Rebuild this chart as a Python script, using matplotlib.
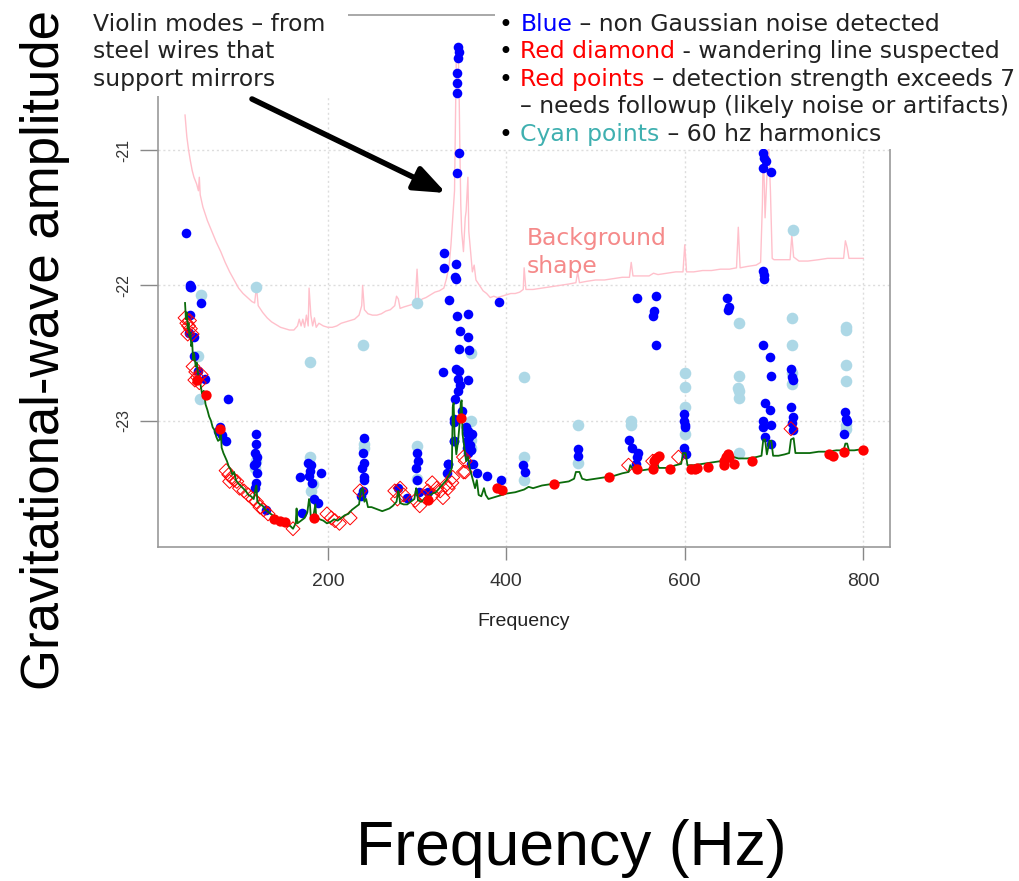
import matplotlib
matplotlib.use("Agg")
import matplotlib.pyplot as plt
from matplotlib.patches import Rectangle

# ---- data ----
# noise floor (green)
green_f = [40, 41, 42, 43, 44, 45, 46, 47, 48, 49, 50, 52, 53, 55, 57, 59, 61, 63, 65, 67, 69, 71, 73, 75,
           77, 79, 80, 81, 83, 85, 87, 89, 91, 93, 95, 97, 99, 102, 105, 108, 111, 114, 117, 119, 120, 121,
           124, 127, 130, 134, 138, 142, 146, 150, 154, 158, 161, 164, 165, 166, 170, 174, 177, 179, 180,
           181, 184, 186, 187, 191, 195, 199, 203, 207, 211, 215, 219, 223, 227, 231, 235, 237, 239, 241,
           243, 245, 249, 253, 257, 261, 265, 269, 273, 277, 279, 280, 281, 285, 289, 293, 297, 299, 300,
           301, 305, 309, 313, 317, 321, 325, 329, 333, 336, 339, 340, 341, 342, 344, 346, 348, 349, 350,
           351, 353, 355, 357, 359, 361, 363, 365, 367, 369, 372, 375, 377, 380, 385, 390, 395, 400, 410,
           420, 425, 430, 440, 450, 460, 470, 476, 478, 482, 485, 490, 500, 510, 520, 530, 537, 539, 542,
           550, 560, 566, 568, 571, 580, 590, 596, 598, 601, 603, 610, 620, 630, 640, 650, 655, 660, 670,
           680, 686, 688, 690, 692, 695, 697, 699, 705, 712, 717, 719, 722, 724, 730, 740, 750, 760, 770,
           778, 780, 782, 784, 790, 800]
green_a = [-22.13, -22.25, -22.2, -22.32, -22.28, -22.38, -22.35, -22.45, -22.42, -22.55, -22.5, -22.6,
           -22.57, -22.68, -22.72, -22.8, -22.78, -22.88, -22.92, -22.97, -23.0, -23.05, -23.07, -23.12,
           -23.15, -23.14, -23.06, -23.2, -23.24, -23.27, -23.3, -23.34, -23.36, -23.4, -23.38, -23.44,
           -23.46, -23.48, -23.5, -23.52, -23.55, -23.56, -23.58, -23.5, -23.48, -23.6, -23.62, -23.63,
           -23.66, -23.68, -23.7, -23.72, -23.74, -23.75, -23.77, -23.78, -23.8, -23.76, -23.65, -23.76,
           -23.74, -23.72, -23.68, -23.58, -23.62, -23.72, -23.7, -23.62, -23.71, -23.73, -23.74, -23.76,
           -23.75, -23.73, -23.74, -23.72, -23.7, -23.69, -23.66, -23.64, -23.62, -23.52, -23.5, -23.6,
           -23.58, -23.64, -23.64, -23.65, -23.66, -23.67, -23.66, -23.65, -23.63, -23.6, -23.52, -23.55,
           -23.61, -23.62, -23.62, -23.6, -23.58, -23.5, -23.52, -23.59, -23.6, -23.57, -23.56, -23.54,
           -23.53, -23.5, -23.47, -23.44, -23.4, -23.35, -22.9, -22.87, -23.1, -23.25, -23.15, -23.0,
           -22.87, -22.85, -23.1, -23.2, -23.3, -23.27, -23.35, -23.4, -23.45, -23.5, -23.44, -23.55,
           -23.56, -23.5, -23.55, -23.58, -23.57, -23.56, -23.55, -23.54, -23.53, -23.51, -23.49, -23.5,
           -23.48, -23.47, -23.46, -23.45, -23.43, -23.38, -23.38, -23.43, -23.44, -23.43, -23.42, -23.41,
           -23.39, -23.38, -23.33, -23.36, -23.37, -23.36, -23.35, -23.3, -23.35, -23.35, -23.33, -23.32,
           -23.24, -23.24, -23.33, -23.33, -23.32, -23.31, -23.3, -23.29, -23.27, -23.28, -23.28, -23.27,
           -23.26, -23.14, -23.14, -23.25, -23.15, -23.15, -23.26, -23.26, -23.25, -23.24, -23.14, -23.13,
           -23.24, -23.24, -23.24, -23.23, -23.23, -23.22, -23.22, -23.17, -23.17, -23.22, -23.22, -23.21]

# background shape (pink)
pink_f = [40, 42, 44, 46, 48, 50, 53, 55, 56, 57, 60, 65, 70, 75, 80, 85, 90, 95, 100, 105, 110, 115, 118,
          120, 122, 127, 132, 137, 142, 147, 152, 157, 162, 166, 168, 170, 172, 174, 176, 178, 179, 181,
          183, 185, 187, 190, 195, 200, 205, 210, 215, 220, 225, 230, 235, 238, 239, 241, 245, 250, 255,
          260, 265, 270, 275, 277, 279, 281, 285, 290, 295, 298, 300, 302, 306, 310, 315, 320, 325, 330,
          333, 336, 338, 340, 342, 343, 344, 345, 346, 347, 348, 349, 350, 352, 354, 355, 357, 358, 360,
          362, 364, 366, 370, 374, 378, 382, 386, 390, 395, 400, 405, 410, 415, 419, 420, 422, 430, 440,
          450, 460, 470, 478, 480, 482, 490, 500, 510, 520, 530, 538, 540, 542, 550, 560, 565, 570, 580,
          590, 598, 600, 602, 610, 620, 630, 640, 650, 658, 660, 662, 670, 680, 685, 687, 688, 690, 692,
          694, 696, 698, 700, 710, 718, 720, 722, 728, 738, 750, 760, 770, 778, 780, 782, 784, 790, 800]
pink_a = [-20.74, -20.9, -21.0, -21.08, -21.15, -21.2, -21.25, -21.3, -21.2, -21.33, -21.42, -21.52, -21.6,
          -21.68, -21.75, -21.83, -21.9, -21.96, -22.02, -22.06, -22.09, -22.12, -22.13, -22.01, -22.15,
          -22.2, -22.24, -22.27, -22.29, -22.31, -22.32, -22.33, -22.33, -22.3, -22.25, -22.3, -22.25,
          -22.31, -22.22, -22.3, -22.02, -22.22, -22.3, -22.24, -22.31, -22.28, -22.3, -22.31, -22.31,
          -22.3, -22.28, -22.27, -22.26, -22.25, -22.22, -22.15, -22.0, -22.18, -22.21, -22.22, -22.22,
          -22.21, -22.19, -22.18, -22.15, -22.08, -22.1, -22.17, -22.16, -22.15, -22.14, -22.12, -21.88,
          -22.12, -22.1, -22.09, -22.07, -22.05, -22.04, -22.02, -21.95, -21.85, -21.7, -21.5, -21.3,
          -20.8, -20.3, -20.22, -20.25, -20.5, -21.0, -21.4, -21.6, -21.75, -21.5, -21.45, -21.2, -21.6,
          -21.75, -21.9, -21.85, -21.96, -22.0, -22.04, -22.06, -22.09, -22.08, -22.09, -22.08, -22.07,
          -22.06, -22.06, -22.05, -22.03, -21.87, -22.03, -22.03, -22.02, -22.01, -22.0, -21.99, -21.98,
          -21.9, -21.98, -21.97, -21.96, -21.96, -21.95, -21.94, -21.94, -21.83, -21.93, -21.93, -21.93,
          -21.91, -21.92, -21.91, -21.9, -21.9, -21.7, -21.9, -21.9, -21.89, -21.89, -21.88, -21.88,
          -21.87, -21.57, -21.87, -21.86, -21.85, -21.83, -21.4, -20.95, -21.5, -21.2, -20.95, -21.3,
          -21.8, -21.81, -21.81, -21.81, -21.63, -21.79, -21.82, -21.82, -21.81, -21.8, -21.8, -21.8,
          -21.67, -21.72, -21.8, -21.8, -21.8]

# non Gaussian noise (blue)
blue_pts = [(41, -21.61), (45, -22.01), (46, -22.0), (47, -22.01), (58, -22.13), (45, -22.22), (44, -22.35),
            (50.6, -22.38), (50.6, -22.52), (55, -22.63), (62, -22.69), (88, -22.84), (79, -23.05),
            (81, -23.11), (86, -23.15), (77, -23.08),
            (120, -23.1), (119, -23.17), (118, -23.24), (120, -23.31), (121, -23.39), (120, -23.46),
            (118, -23.5), (121, -23.27), (117, -23.33), (131, -23.66),
            (168.5, -23.42), (177.5, -23.31), (181, -23.33), (179, -23.41), (182, -23.46), (192, -23.39),
            (180, -23.37), (185, -23.58), (189, -23.61), (171, -23.68),
            (240, -23.13), (239, -23.24), (240, -23.31), (238, -23.35), (240, -23.42), (241, -23.44),
            (239, -23.52), (237, -23.56),
            (300, -23.24), (301, -23.3), (299, -23.35), (300, -23.44), (302, -23.53), (279, -23.5),
            (289, -23.57), (312, -23.53), (335, -23.32), (334, -23.39), (341, -23.15),
            (356, -23.09), (360, -23.22), (363, -23.32), (367, -23.39), (394, -23.44), (378, -23.41),
            (419, -23.33), (421, -23.38),
            (343, -21.94), (336, -22.11), (392, -22.12), (345, -22.23), (357, -22.21), (348, -22.34),
            (357, -22.38), (347, -22.47), (358, -22.48), (329, -22.64), (344, -22.62), (347, -22.63),
            (346, -22.69), (357, -22.7), (348, -22.74), (346, -22.78), (342, -22.84), (350, -22.93),
            (341, -22.99), (341, -23.01), (357, -23.08), (362, -23.1), (341, -23.15), (356, -23.15),
            (356, -23.2), (357, -23.24), (335, -23.32), (360, -23.32), (355, -23.05), (358, -23.12),
            (359, -23.18),
            (346, -20.24), (347, -20.27), (346, -20.32), (345, -20.43), (345, -20.5), (345, -20.58),
            (347, -21.02), (345, -21.17), (330, -21.76), (330, -21.87), (344, -21.84), (344, -21.95),
            (480, -23.21), (480, -23.26),
            (538, -23.14), (541, -23.2), (548, -23.24), (546, -23.27), (545, -23.32), (547, -22.09),
            (568, -22.08), (566, -22.19), (564, -22.23), (568, -22.44),
            (599, -22.95), (599, -23.0), (600, -23.03), (600, -23.05), (599, -23.2), (601, -23.25),
            (647, -22.09), (650, -22.16), (649, -22.18),
            (688, -22.44), (695, -22.53), (697, -22.67), (690, -22.87), (695, -22.92), (688, -23.0),
            (697, -23.03), (688, -23.05), (690, -23.12), (697, -23.17), (688, -21.02), (689, -21.06),
            (691, -21.08), (688, -21.13), (697, -21.16), (688, -21.89), (689, -21.92), (689, -21.95),
            (719, -22.62), (720, -22.68), (721, -22.7), (719, -22.9), (721, -22.97), (721, -23.07),
            (720, -23.02),
            (780, -22.94), (781, -22.99), (782, -23.0), (779, -23.1)]

# 60 Hz harmonics (light blue)
cyan_pts = [(58, -22.07), (55, -22.52), (57, -22.84), (120, -22.01), (180, -22.57), (239, -22.44),
            (300, -22.13), (120, -23.3), (118, -23.35), (180, -23.27), (181, -23.52), (183, -23.47),
            (240, -23.17), (241, -23.2), (300, -23.19), (300, -23.43), (360, -22.5), (360, -23.0),
            (360, -23.14), (361, -23.2), (420, -22.68), (420, -23.27), (420, -23.44), (480, -23.03),
            (480, -23.31), (540, -23.0), (540, -23.03), (600, -22.65), (600, -22.75), (600, -22.9),
            (600, -23.1), (661, -22.28), (661, -22.67), (660, -22.76), (661, -22.78), (661, -22.83),
            (661, -23.24), (720, -22.24), (720, -22.44), (720, -22.65), (720, -22.73), (721, -21.59),
            (781, -22.31), (781, -22.33), (781, -22.59), (781, -22.71), (781, -23.03), (781, -23.06)]

# detection strength > 7 (red points)
red_pts = [(53, -22.7), (64, -22.81), (79, -23.06), (140, -23.73), (146, -23.74), (152, -23.75),
           (184, -23.72), (312, -23.59), (349, -22.98), (390, -23.5), (395, -23.51), (453, -23.47),
           (515, -23.42), (546, -23.36), (564, -23.36), (566, -23.3), (571, -23.26), (568, -23.28),
           (584, -23.36), (607, -23.36), (611, -23.36), (614, -23.35), (626, -23.34), (644, -23.33),
           (646, -23.27), (650, -23.27), (644, -23.3), (648, -23.25), (655, -23.32), (675, -23.3),
           (762, -23.25), (766, -23.26), (778, -23.23), (800, -23.22)]

# wandering line suspected (red diamonds)
diamond_pts = [(40, -22.24), (42, -22.28), (44, -22.3), (46, -22.32), (43, -22.36), (45, -22.26),
               (48, -22.36), (49, -22.6), (52, -22.64), (54, -22.68), (56, -22.72), (58, -22.66),
               (51, -22.7), (86, -23.37), (89, -23.4), (92, -23.42), (95, -23.44), (98, -23.45),
               (90, -23.45), (101, -23.5), (106, -23.52), (111, -23.55), (116, -23.58), (120, -23.6),
               (124, -23.64), (128, -23.66), (133, -23.69), (161, -23.8), (199, -23.69), (204, -23.72),
               (208, -23.74), (213, -23.76), (225, -23.72), (236, -23.52), (275, -23.52), (278, -23.58),
               (281, -23.5), (285, -23.55), (298, -23.59), (303, -23.63), (308, -23.56), (312, -23.52),
               (317, -23.46), (318, -23.55), (322, -23.5), (326, -23.52), (329, -23.57), (332, -23.48),
               (335, -23.5), (339, -23.46), (340, -23.42), (352, -23.27), (354, -23.3), (354, -23.38),
               (352, -23.38), (537, -23.33), (564, -23.3), (593, -23.27), (719, -23.06)]

x_ticks = [200, 400, 600, 800]
y_ticks = [-21, -22, -23]

# ---- figure ----
W, H = 1020, 881


def fx(x):
    return x / W


def fy(y):
    return 1 - y / H


fig = plt.figure(figsize=(10.2, 8.81), dpi=100)
ax = fig.add_axes([fx(158), fy(547), fx(890) - fx(158), fy(15) - fy(547)])

ax.plot(pink_f, pink_a, color='pink', lw=1, zorder=1)
ax.scatter([p[0] for p in cyan_pts], [p[1] for p in cyan_pts], s=70, color='#add8e6', lw=0, zorder=2)
ax.scatter([p[0] for p in blue_pts], [p[1] for p in blue_pts], s=48, color='#0000ff', lw=0, zorder=3)
ax.scatter([p[0] for p in diamond_pts], [p[1] for p in diamond_pts], s=50, marker='D',
           facecolors='none', edgecolors='#ff0000', lw=0.7, zorder=4)
ax.plot(green_f, green_a, color='#0b6b0b', lw=1.3, zorder=5)
ax.scatter([p[0] for p in red_pts], [p[1] for p in red_pts], s=55, color='#ff0000', lw=0, zorder=6)

ax.set_xlim(9.7, 830)
ax.set_ylim(-23.935, -20.0)
ax.set_xticks(x_ticks)
ax.set_yticks(y_ticks)
ax.set_xticklabels([str(t) for t in x_ticks], fontfamily='Liberation Sans', fontsize=14, color='#333333')
ax.set_yticklabels([str(t) for t in y_ticks], fontfamily='Liberation Sans', fontsize=11.5,
                   color='#333333', rotation=90, va='center')
ax.tick_params(axis='x', length=9, width=1, color='#888888', pad=10)
ax.tick_params(axis='y', length=13, width=1, color='#888888', pad=6)
for s in ax.spines.values():
    s.set_color('#999999')
    s.set_linewidth(1.2)
ax.grid(True, color='#dddddd', lw=1, linestyle=(0, (1.5, 2)))
ax.set_axisbelow(True)

fig.text(fx(524), fy(621), 'Frequency', ha='center', va='center', fontsize=14,
         fontfamily='Liberation Sans', color='#222222')

# white masks behind the notes
fig.add_artist(Rectangle((fx(85), fy(96)), fx(348) - fx(85), fy(0) - fy(96),
                         transform=fig.transFigure, facecolor='white', edgecolor='none', zorder=5))
fig.add_artist(Rectangle((fx(495), fy(149)), fx(1020) - fx(495), fy(0) - fy(149),
                         transform=fig.transFigure, facecolor='white', edgecolor='none', zorder=5))

note = dict(fontsize=16.9, fontfamily='DejaVu Sans', va='baseline', zorder=6)
for i, s in enumerate(['Violin modes \u2013 from', 'steel wires that', 'support mirrors']):
    fig.text(fx(93), fy(31 + 27.4 * i), s, color='#222222', **note)

renderer = fig.canvas.get_renderer()


def colored_line(x, y, parts):
    for s, c in parts:
        t = fig.text(fx(x), fy(y), s, color=c, **note)
        x = t.get_window_extent(renderer).x1


dark = '#222222'
colored_line(499, 31, [('\u2022 ', 'black'), ('Blue', '#0000ff'), (' \u2013 non Gaussian noise detected', dark)])
colored_line(499, 58, [('\u2022 ', 'black'), ('Red diamond', '#ff0000'), (' - wandering line suspected', dark)])
colored_line(499, 86, [('\u2022 ', 'black'), ('Red points', '#ff0000'),
                       (' \u2013 detection strength exceeds 7', dark)])
colored_line(520, 113, [('\u2013 needs followup (likely noise or artifacts)', dark)])
colored_line(499, 141, [('\u2022 ', 'black'), ('Cyan points', '#3fb0b0'), (' \u2013 60 hz harmonics', dark)])

fig.text(fx(527), fy(245), 'Background', color='#f58a8a', **note)
fig.text(fx(527), fy(273), 'shape', color='#f58a8a', **note)

fig.add_artist(matplotlib.patches.FancyArrowPatch(
    (252, H - 99), (446, H - 193), transform=None, arrowstyle='-|>,head_length=1.9,head_width=0.75',
    mutation_scale=10, lw=4, color='black', shrinkA=0, shrinkB=0, zorder=7))

fig.text(fx(45), fy(350), 'Gravitational-wave amplitude', rotation=90, ha='center', va='center',
         fontsize=38, fontfamily='Liberation Sans', color='black')
fig.text(fx(571), fy(848), 'Frequency (Hz)', ha='center', va='center',
         fontsize=45, fontfamily='Liberation Sans', color='black')

fig.savefig('out.png', dpi=100)
